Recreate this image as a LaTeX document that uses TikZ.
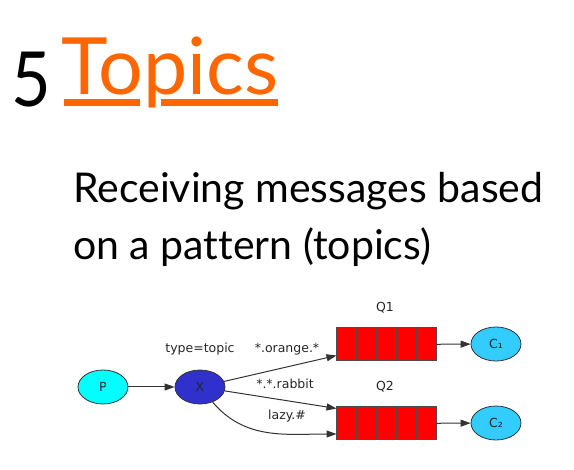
\documentclass[tikz,border=0pt]{standalone}
\usepackage{fontspec}
\setmainfont{Lato}[Ligatures=NoCommon]
\newfontfamily\dejavu{DejaVu Sans}
\usetikzlibrary{shapes.geometric,arrows.meta}
\definecolor{topicorange}{HTML}{FF6600}
\definecolor{pcyan}{HTML}{00FFFF}
\definecolor{xblue}{HTML}{3030CC}
\definecolor{cblue}{HTML}{33CCFF}
\definecolor{qred}{HTML}{FF0000}
\definecolor{edgegray}{HTML}{333333}
\tikzset{
  ell/.style={ellipse, draw=edgegray, line width=0.8pt, minimum width=50pt, minimum height=34pt, inner sep=0pt, font=\dejavu\fontsize{12.5}{14}\selectfont, text=black!85},
  queue/.style={rectangle, draw=black!70, line width=1pt, fill=qred, minimum width=99pt, minimum height=33pt, inner sep=0pt},
  cell/.style={draw=black!70, line width=1pt, fill=qred},
  edge/.style={draw=edgegray, line width=1pt, -{Triangle[length=10pt,width=7pt]}},
  lbl/.style={font=\dejavu\fontsize{12.5}{14}\selectfont, text=black!85, inner sep=0pt},
  big/.style={inner sep=0pt, anchor=base west},
}
\begin{document}
\begin{tikzpicture}[x=1pt,y=-1pt]
\useasboundingbox (0,0) rectangle (574,470);
% title
\node[big, font=\fontsize{76}{80}\selectfont, xscale=0.9] (num) at (11,107) {5};
\node[big, font=\fontsize{79}{82}\selectfont, text=topicorange] (title) at (61,95) {Topics};
\fill[topicorange] (64,99) rectangle (140,106);
\fill[topicorange] (161,99) rectangle (278,106);
% subtitle
\node[big, font=\fontsize{41}{44}\selectfont] (sub1) at (73,203) {Receiving messages based};
\node[big, font=\fontsize{41}{44}\selectfont] (sub2) at (73,260) {on a pattern (topics)};
% diagram nodes
\node[ell, fill=pcyan] (P) at (103,387) {P};
\node[ell, fill=xblue] (X) at (200,387) {X};
\node[queue] (Q1) at (386.5,344.5) {};
\node[queue] (Q2) at (386.5,423.5) {};
\foreach \q in {Q1,Q2}{
  \foreach \k in {0,20,40,60,80}{
    \draw[cell] (\q.north west) ++(\k,0) rectangle ++(19.8,33);
  }
}
\node[ell, fill=cblue] (C1) at (496,344) {C₁};
\node[ell, fill=cblue] (C2) at (496,423) {C₂};
% labels
\node[lbl] (lt) at (200,349) {type=topic};
\node[lbl] (lo) at (287,349) {*.orange.*};
\node[lbl] (lr) at (285,384) {*.*.rabbit};
\node[lbl] (lz) at (287,416) {lazy.\#};
\node[lbl] (lq1) at (385,308) {Q1};
\node[lbl] (lq2) at (385,387) {Q2};
% connector ends
\coordinate (e1) at ([yshift=-11pt]Q1.west);
\coordinate (e2) at ([yshift=15pt]Q2.west);
\coordinate (e3) at ([yshift=-10.5pt]Q2.west);
% edges
\draw[edge] (P) -- (X);
\draw[edge] (X) -- (e1);
\draw[edge] (X) -- (e2);
\draw[edge] (X) to[out=-50,in=180] (e3);
\draw[edge] (Q1) -- (C1);
\draw[edge] (Q2) -- (C2);
\end{tikzpicture}
\end{document}
